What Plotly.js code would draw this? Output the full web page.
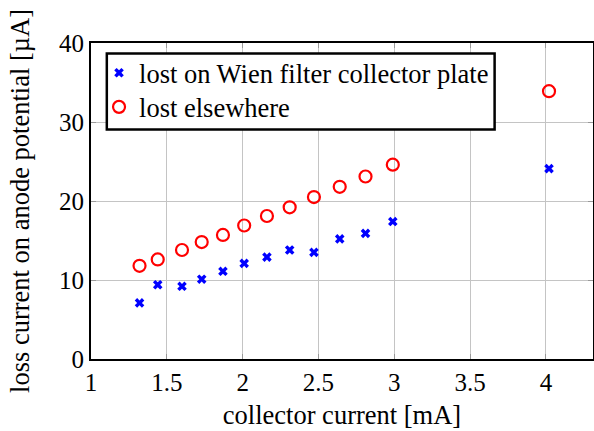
<!DOCTYPE html>
<html>
<head>
<meta charset="utf-8">
<script src="https://cdn.plot.ly/plotly-3.0.1.min.js"></script>
<style>html,body{margin:0;padding:0;background:#fff;}#chart{width:594px;height:431px;}</style>
</head>
<body>
<div id="chart"></div>
<script>
const collectorCurrent = [1.32, 1.44, 1.60, 1.73, 1.87, 2.01, 2.16, 2.31, 2.47, 2.64, 2.81, 2.99, 4.02];
const lostWienFilter = [7.1, 9.4, 9.2, 10.1, 11.1, 12.1, 12.9, 13.8, 13.5, 15.2, 15.9, 17.4, 24.1];
const lostElsewhere = [11.8, 12.6, 13.8, 14.8, 15.7, 16.9, 18.1, 19.2, 20.5, 21.8, 23.1, 24.6, 33.9];
const seriesNames = ["lost on Wien filter collector plate", "lost elsewhere"];
const xTicks = [1, 1.5, 2, 2.5, 3, 3.5, 4];
const yTicks = [0, 10, 20, 30, 40];

const FAMILY = "Liberation Serif, Times New Roman, serif";
const tickFont = {family: FAMILY, size: 25, color: "#000"};
const titleFont = {family: FAMILY, size: 26.5, color: "#000"};
const legendFont = {family: FAMILY, size: 26.5, color: "#000"};

const traces = [
  {x: collectorCurrent, y: lostWienFilter, name: seriesNames[0], type: "scatter", mode: "markers",
   legend: "legend",
   marker: {symbol: "x", size: 8.5, color: "#0000ff", line: {width: 0}}},
  {x: collectorCurrent, y: lostElsewhere, name: seriesNames[1], type: "scatter", mode: "markers",
   legend: "legend2",
   marker: {symbol: "circle-open", size: 12, color: "#ff0000", line: {width: 2.2, color: "#ff0000"}}}
];

const axisCommon = {
  showline: true, linecolor: "#000", linewidth: 2, mirror: "allticks",
  ticks: "inside", ticklen: 5, tickcolor: "#999", tickwidth: 1,
  showgrid: true, gridcolor: "#c4c4c4", gridwidth: 1, zeroline: false,
  tickfont: tickFont
};

const legendCommon = {xanchor: "left", yanchor: "middle", bgcolor: "rgba(0,0,0,0)",
                      borderwidth: 0, font: legendFont, itemwidth: 30};

const layout = {
  width: 594, height: 431,
  margin: {l: 91, r: 1, t: 43, b: 72},
  paper_bgcolor: "#fff", plot_bgcolor: "#fff",
  font: tickFont,
  showlegend: true,
  legend: Object.assign({}, legendCommon, {x: 0.016, y: 0.905}),
  legend2: Object.assign({}, legendCommon, {x: 0.016, y: 0.797}),
  shapes: [{type: "rect", xref: "paper", yref: "paper", layer: "above",
            x0: 0.0315, x1: 0.804, y0: 0.726, y1: 0.967,
            fillcolor: "#fff", line: {color: "#000", width: 2.5}}],
  xaxis: Object.assign({}, axisCommon, {
    range: [1, 4.31], tickvals: xTicks, ticktext: xTicks.map(String),
    title: {text: "collector current [mA]", font: titleFont, standoff: 10}
  }),
  yaxis: Object.assign({}, axisCommon, {
    range: [0, 40], tickvals: yTicks, ticktext: yTicks.map(String),
    title: {text: "loss current on anode potential [µA]", font: titleFont, standoff: 22}
  })
};

Plotly.newPlot("chart", traces, layout, {displayModeBar: false, staticPlot: true});
</script>
</body>
</html>
